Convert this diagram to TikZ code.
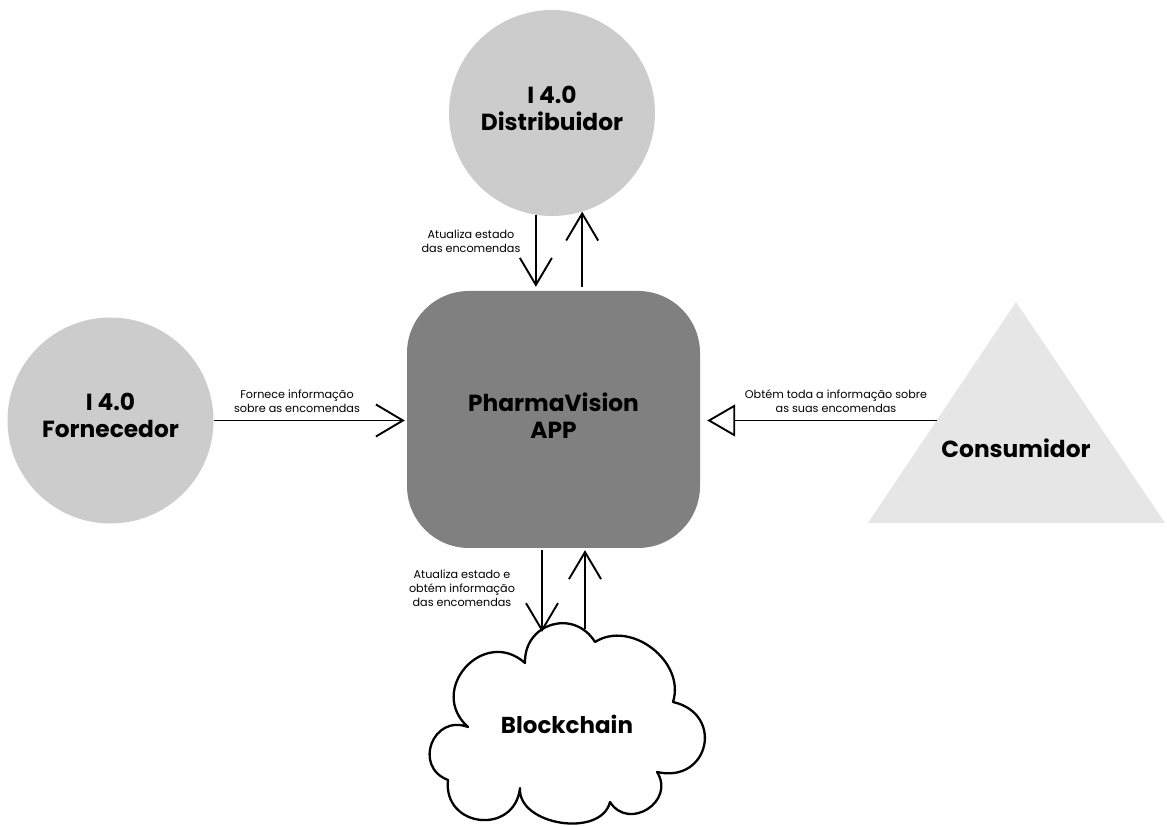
\documentclass[tikz,border=0pt]{standalone}
\usepackage{fontspec}
\setmainfont{Poppins}
\usetikzlibrary{arrows.meta}
\definecolor{actorgray}{HTML}{CCCCCC}
\definecolor{appgray}{HTML}{808080}
\definecolor{usergray}{HTML}{E6E6E6}

\begin{document}
\begin{tikzpicture}[x=1pt,y=1pt,
  title/.style={font=\fontsize{23.3}{27}\selectfont\bfseries, align=center},
  actor/.style={title, circle, fill=actorgray, minimum size=206pt, inner sep=0pt, text depth=10pt},
  appbox/.style={title, fill=appgray, rounded corners=62pt, text depth=8pt,
    minimum width=293pt, minimum height=257pt, inner sep=0pt},
  lbl/.style={font=\fontsize{11.2}{14}\selectfont, align=center, inner sep=0pt},
  flow/.style={line width=1.9pt, -{Straight Barb[length=27pt,width=32pt,line width=1.9pt]}},
  query/.style={line width=1.9pt, -{Triangle[open,length=28pt,width=32pt,line width=1.9pt,fill=white]}},
  cloudline/.style={line width=2.3pt, line join=round, fill=white}
]
\useasboundingbox (0,0) rectangle (1167,825);

% participants
\node[actor] (dist) at (552,712) {I 4.0\\Distribuidor};
\node[actor] (forn) at (110.5,404.5) {I 4.0\\Fornecedor};
\node[appbox] (app) at (553.5,405.5) {PharmaVision\\APP};

% consumer triangle
\fill[usergray] (868,302) -- (1016,523) -- (1165,302) -- cycle;
\node[title] (cons) at (1016,377) {Consumidor};
\coordinate (consedge) at (937,404.5);

% blockchain cloud
\draw[cloudline]
  (525,162) to[bend left=75, looseness=1.4] (595,183)
            to[bend left=70, looseness=1.1] (673,123)
            to[bend left=90, looseness=1.9] (657,53)
            to[bend left=90, looseness=1.6] (610,23)
            to[bend left=85, looseness=1.05] (520,37)
            to[bend left=90, looseness=1.7] (448,45)
            to[bend left=90, looseness=1.7] (468,98)
            to[bend left=90, looseness=1.65] (525,162) -- cycle;
\node[title, font=\fontsize{23}{27}\selectfont\bfseries] (chain) at (567,101) {Blockchain};
\coordinate (chainL) at (542,193);
\coordinate (chainR) at (585,196);

% distributor <-> app
\draw[flow] (dist.-99.5) -- ([yshift=4pt]app.north -| dist.-99.5);
\draw[flow] ([yshift=4pt]app.north -| dist.-73.6) -- (dist.-73.6);
\node[lbl] (lblDist) at (471,583.5) {Atualiza estado\\das encomendas};

% supplier -> app
\draw[flow] (forn.east) -- ([xshift=-2pt]app.west |- forn.east);
\node[lbl] (lblForn) at (297,423.5) {Fornece informação\\sobre as encomendas};

% consumer -> app
\draw[query] (consedge) -- ([xshift=7pt]app.east |- consedge);
\node[lbl] (lblCons) at (836,424) {Obtém toda a informação sobre\\as suas encomendas};

% app <-> blockchain
\draw[flow] ([yshift=-2pt]app.south -| chainL) -- (chainL);
\draw[flow] (chainR) -- ([yshift=-2pt]app.south -| chainR);
\node[lbl] (lblChain) at (462,236.5) {Atualiza estado e\\obtém informação\\das encomendas};
\end{tikzpicture}
\end{document}
